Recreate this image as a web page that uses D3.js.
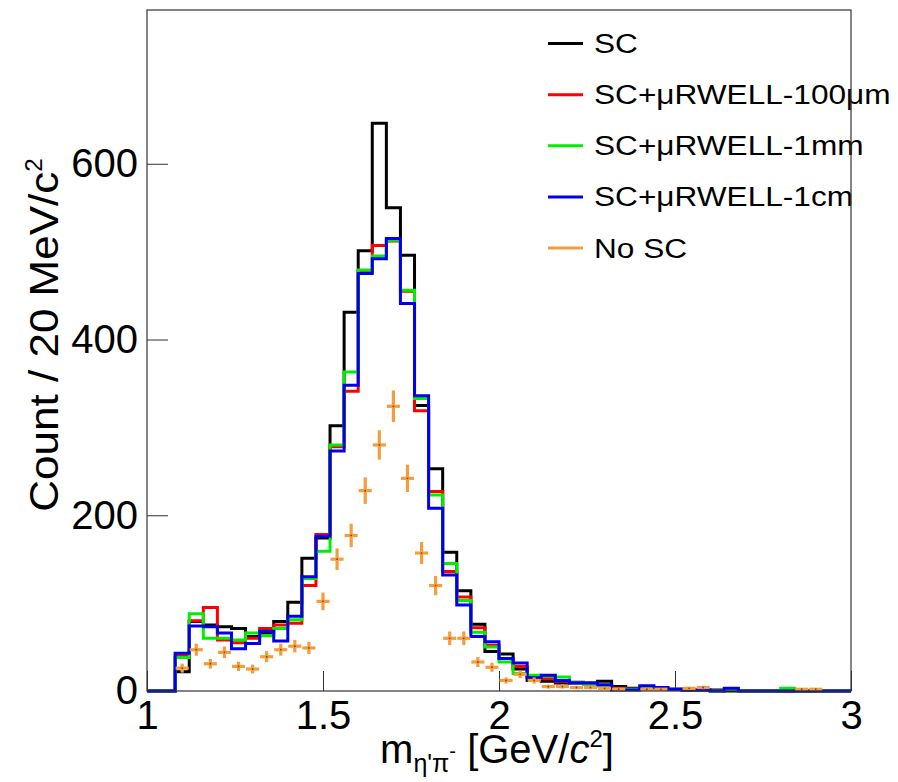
<!DOCTYPE html>
<html>
<head>
<meta charset="utf-8">
<script src="https://cdn.jsdelivr.net/npm/d3@7"></script>
<style>
  body { margin: 0; background: #fff; }
  text { font-family: "Liberation Sans", Arial, Helvetica, sans-serif; fill: #000; }
</style>
</head>
<body>
<div id="main"></div>
<script>
// bin edges, 0.04 GeV wide from 1 to 3
const binEdges = d3.range(0, 51).map(i => +(1 + i * 0.04).toFixed(2));

// counts per bin
const countSC = [0,0,22,79,75,73,71,62,66,79,101,151,174,302,431,501,646,550,496,325,253,158,114,76,45,42,25,12,11,9,10,9,11,5,3,4,3,2,1,1,1,0,0,0,0,0,0,0,0,0];
const count100um = [0,0,40,80,95,58,55,60,71,75,77,120,178,278,341,478,507,512,455,319,227,136,107,72,52,37,28,15,14,11,9,8,6,3,2,4,3,2,1,1,0,2,0,0,0,0,0,0,0,0];
const count1mm = [0,0,38,88,60,60,58,66,63,71,81,128,159,280,363,479,495,513,456,333,223,145,103,67,50,33,20,18,17,16,9,8,6,2,2,5,3,2,1,1,0,2,0,0,0,3,0,0,0,0];
const count1cm = [0,0,43,74,73,66,48,54,68,57,85,130,176,273,348,475,492,515,441,336,208,132,98,62,56,37,32,15,18,12,9,9,7,1,1,6,4,2,1,1,0,3,0,0,0,0,0,0,0,0];
const countNoSC = [0,0,26,47,31,44,28,25,39,47,51,49,102,150,177,228,280,324,242,157,120,60,60,33,27,12,19,12,5,5,4,4,3,2,0,2,2,0,3,4,0,0,0,0,0,0,2,2,0,0];

const seriesNames = ["SC", "SC+\u03BCRWELL-100\u03BCm", "SC+\u03BCRWELL-1mm", "SC+\u03BCRWELL-1cm", "No SC"];
const seriesColors = ["#000000", "#ff0000", "#00ee00", "#0000ee", "#f59d3d"];

const xTicks = [1, 1.5, 2, 2.5, 3];
const xMinorTicks = d3.range(0, 21).map(i => +(1 + i * 0.1).toFixed(1));
const yTicks = [0, 200, 400, 600];
const yMinorTicks = d3.range(0, 20).map(i => i * 40);

class Histo {
  constructor(config) {
    this.config = config;
    this.svg = null;
    this.xScale = null;
    this.yScale = null;
    this.createSvg();
    this.createScales();
  }

  createSvg() {
    this.svg = d3.select(this.config.div)
      .append("svg")
      .attr("width", this.config.W)
      .attr("height", this.config.H);
  }

  createScales() {
    const c = this.config;
    this.xScale = d3.scaleLinear().domain([1, 3]).range([c.left, c.left + c.width]);
    this.yScale = d3.scaleLinear().domain([0, 775]).range([c.top + c.height, c.top]);
  }

  renderAxes() {
    const c = this.config;
    const bottom = c.top + c.height;

    const gx = this.svg.append("g").attr("transform", `translate(0,${bottom})`);
    gx.call(d3.axisBottom(this.xScale).tickValues(xMinorTicks).tickSize(-10).tickFormat(""));
    gx.call(d3.axisBottom(this.xScale).tickValues(xTicks).tickSizeInner(-20).tickSizeOuter(0)
      .tickPadding(10).tickFormat(d => String(d)));
    gx.selectAll("text").attr("font-size", 40).attr("font-family", "Liberation Sans, Arial, sans-serif");

    const gy = this.svg.append("g").attr("transform", `translate(${c.left},0)`);
    gy.call(d3.axisLeft(this.yScale).tickValues(yMinorTicks).tickSize(-11).tickFormat(""));
    gy.call(d3.axisLeft(this.yScale).tickValues(yTicks).tickSizeInner(-21).tickSizeOuter(0)
      .tickPadding(9).tickFormat(d => String(d)));
    gy.selectAll("text").attr("font-size", 40).attr("font-family", "Liberation Sans, Arial, sans-serif");

    this.svg.selectAll(".domain").remove();
    this.svg.selectAll(".tick line").attr("stroke", "#333").attr("stroke-width", 1);
  }

  renderSteps(counts, color) {
    const pts = counts.map((v, i) => [binEdges[i], v]);
    pts.push([binEdges[binEdges.length - 1], counts[counts.length - 1]]);
    const line = d3.line()
      .x(d => this.xScale(d[0]))
      .y(d => this.yScale(d[1]))
      .curve(d3.curveStepAfter);
    this.svg.append("path")
      .attr("d", line(pts))
      .attr("fill", "none")
      .attr("stroke", color)
      .attr("stroke-width", 3);
  }

  renderErrors(counts, color) {
    const pts = counts.map((v, i) => ({ lo: binEdges[i], hi: binEdges[i + 1], v: v }))
      .filter(d => d.v > 0);
    const g = this.svg.append("g").attr("stroke", color).attr("stroke-width", 3.2);
    g.selectAll("line.h").data(pts).join("line").attr("class", "h")
      .attr("x1", d => this.xScale(d.lo) + 0.5)
      .attr("x2", d => this.xScale(d.hi) - 0.5)
      .attr("y1", d => this.yScale(d.v))
      .attr("y2", d => this.yScale(d.v));
    g.selectAll("line.v").data(pts).join("line").attr("class", "v")
      .attr("x1", d => this.xScale((d.lo + d.hi) / 2))
      .attr("x2", d => this.xScale((d.lo + d.hi) / 2))
      .attr("y1", d => this.yScale(d.v - Math.sqrt(d.v)))
      .attr("y2", d => this.yScale(d.v + Math.sqrt(d.v)));
    this.svg.append("g").selectAll("circle").data(pts).join("circle")
      .attr("cx", d => this.xScale((d.lo + d.hi) / 2))
      .attr("cy", d => this.yScale(d.v))
      .attr("r", 0.9)
      .attr("fill", "#6a4a2a");
  }

  renderLegend() {
    const g = this.svg.append("g");
    const rowY = d3.scaleLinear().domain([0, 4]).range([43.5, 248]);
    seriesNames.forEach((name, i) => {
      g.append("line")
        .attr("x1", 548).attr("x2", 583)
        .attr("y1", rowY(i)).attr("y2", rowY(i))
        .attr("stroke", seriesColors[i]).attr("stroke-width", 3);
      const t = g.append("text")
        .attr("x", 594).attr("y", rowY(i) + 9.5)
        .attr("font-size", 27)
        .text(name);
      // the original text is set a bit wider than Liberation Sans
      const w = t.node().getComputedTextLength();
      t.attr("textLength", w * 1.17).attr("lengthAdjust", "spacingAndGlyphs");
    });
  }

  renderFrame() {
    const c = this.config;
    this.svg.append("rect")
      .attr("x", c.left).attr("y", c.top)
      .attr("width", c.width).attr("height", c.height)
      .attr("fill", "none").attr("stroke", "#333").attr("stroke-width", 1.2);
  }

  renderTitles() {
    const c = this.config;
    const yt = this.svg.append("text")
      .attr("transform", `translate(58,335) rotate(-90)`)
      .attr("text-anchor", "middle")
      .attr("font-size", 40);
    yt.append("tspan")
      .attr("textLength", 340)
      .attr("lengthAdjust", "spacingAndGlyphs")
      .text("Count / 20 MeV/c");
    yt.append("tspan").attr("font-size", 24).attr("dy", -16).text("2");

    const xt = this.svg.append("text")
      .attr("x", c.left + c.width / 2 - 2)
      .attr("y", 763)
      .attr("text-anchor", "middle")
      .attr("font-size", 40);
    xt.append("tspan").text("m");
    xt.append("tspan").attr("font-size", 25).attr("dy", 9).text("\u03B7'\u03C0");
    xt.append("tspan").attr("font-size", 20).attr("dy", -14).text("-");
    xt.append("tspan").attr("dy", 5).text(" [GeV/");
    xt.append("tspan").attr("font-style", "italic").text("c");
    xt.append("tspan").attr("font-size", 24).attr("dy", -16).text("2");
    xt.append("tspan").attr("dy", 16).text("]");
  }
}

function main() {
  const c = { div: "#main", W: 898, H: 782, left: 147, top: 10, width: 704, height: 681 };
  const h = new Histo(c);
  h.renderAxes();
  h.renderSteps(countSC, seriesColors[0]);
  h.renderSteps(count100um, seriesColors[1]);
  h.renderSteps(count1mm, seriesColors[2]);
  h.renderSteps(count1cm, seriesColors[3]);
  h.renderErrors(countNoSC, seriesColors[4]);
  h.renderLegend();
  h.renderFrame();
  h.renderTitles();
}

main();
</script>
</body>
</html>
